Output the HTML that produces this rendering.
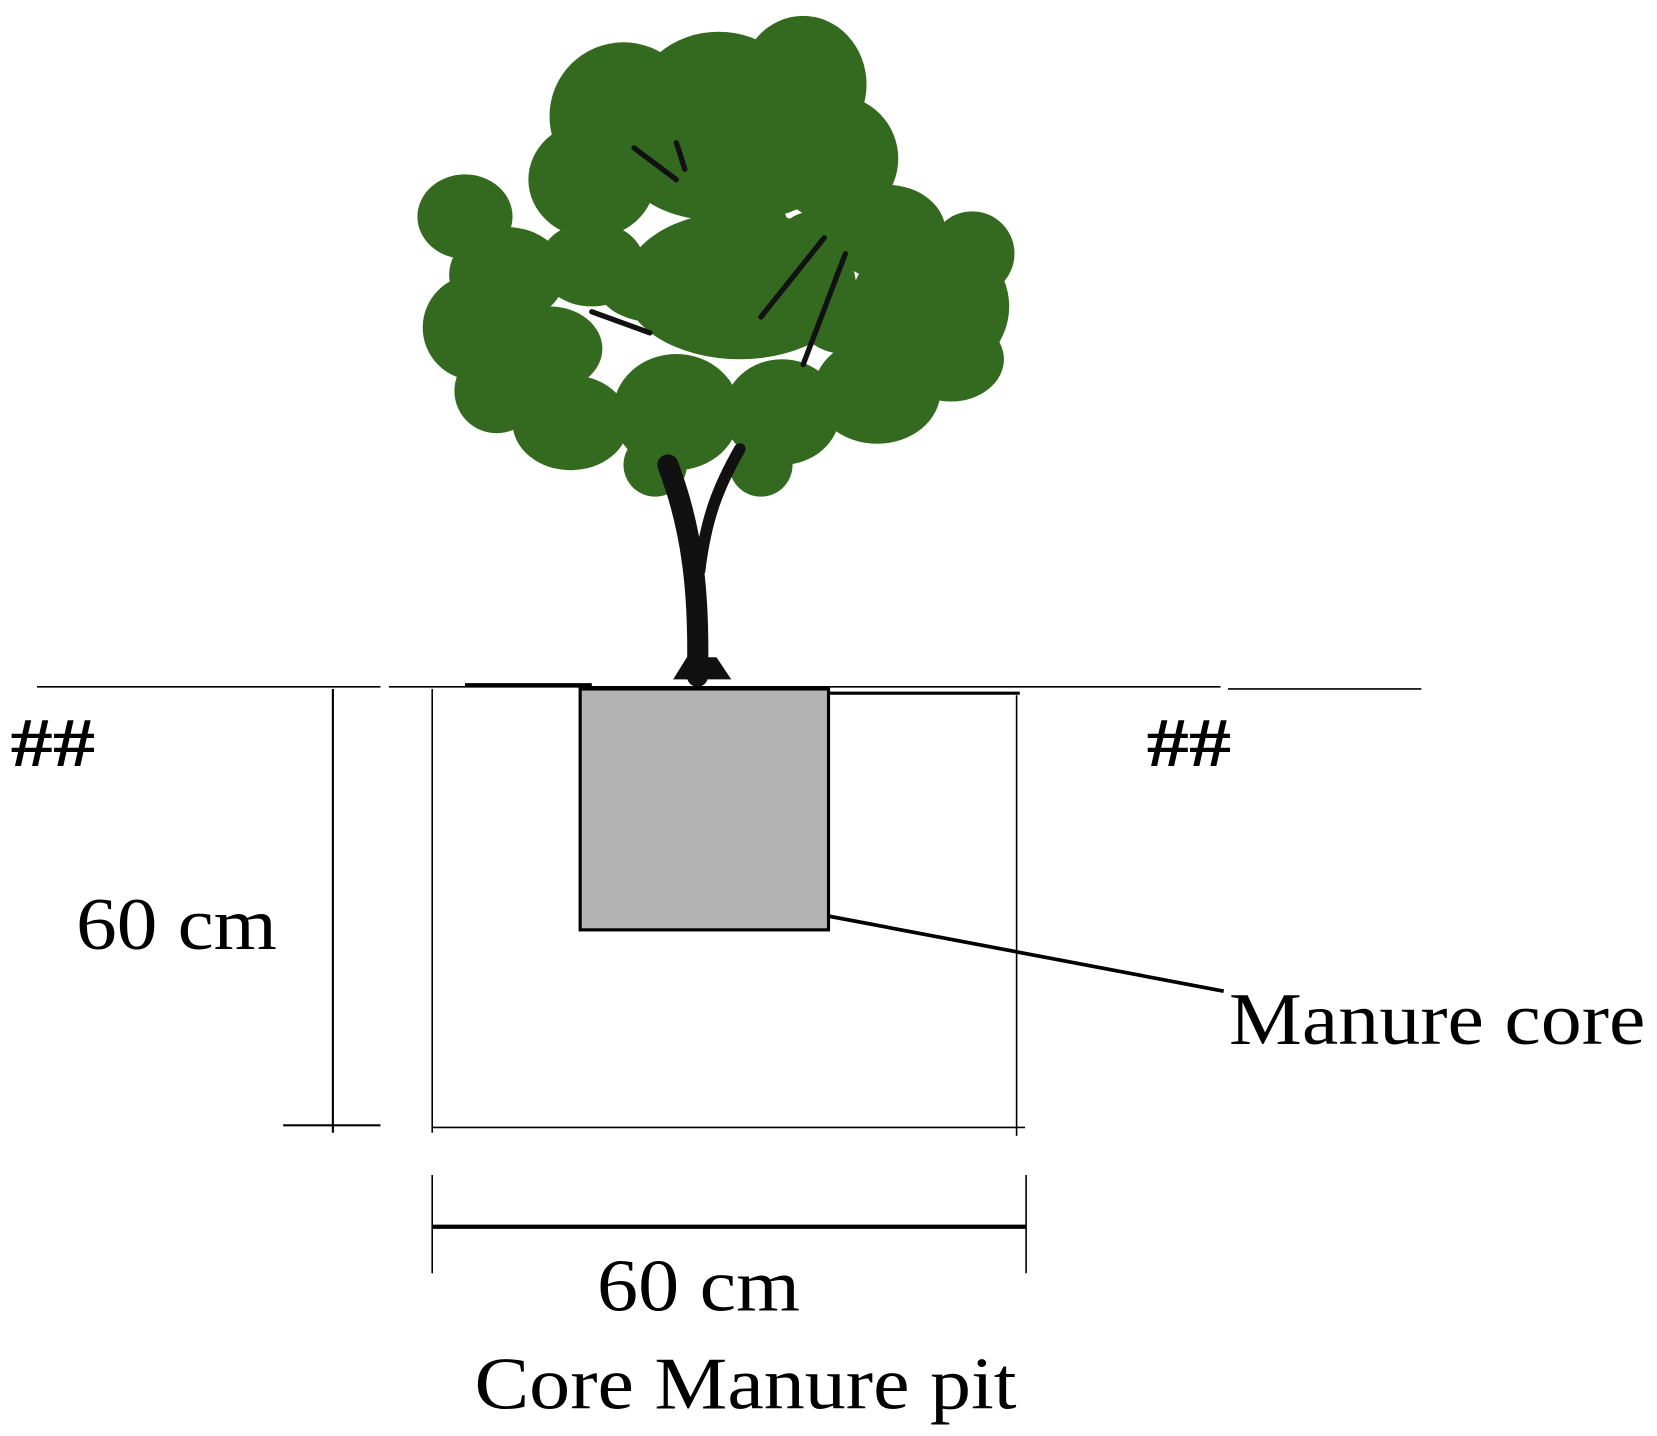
<!DOCTYPE html>
<html><head><style>html,body{margin:0;padding:0;background:#fff}svg{display:block}</style></head>
<body>
<svg width="1657" height="1436" viewBox="0 0 1568 1359" preserveAspectRatio="none" xmlns="http://www.w3.org/2000/svg">
<g fill="#336a1f">
<ellipse cx="590" cy="110" rx="70" ry="70"/>
<ellipse cx="680" cy="100" rx="80" ry="70"/>
<ellipse cx="760" cy="80" rx="60" ry="65"/>
<ellipse cx="790" cy="150" rx="60" ry="60"/>
<ellipse cx="560" cy="170" rx="60" ry="55"/>
<ellipse cx="840" cy="220" rx="55" ry="45"/>
<ellipse cx="440" cy="205" rx="45" ry="40"/>
<ellipse cx="480" cy="260" rx="55" ry="45"/>
<ellipse cx="450" cy="310" rx="50" ry="50"/>
<ellipse cx="520" cy="330" rx="50" ry="40"/>
<ellipse cx="620" cy="270" rx="55" ry="35"/>
<ellipse cx="700" cy="210" rx="45" ry="25"/>
<ellipse cx="880" cy="290" rx="75" ry="70"/>
<ellipse cx="800" cy="300" rx="45" ry="35"/>
<ellipse cx="540" cy="400" rx="55" ry="45"/>
<ellipse cx="640" cy="390" rx="60" ry="55"/>
<ellipse cx="740" cy="390" rx="55" ry="50"/>
<ellipse cx="830" cy="370" rx="60" ry="50"/>
<ellipse cx="900" cy="340" rx="50" ry="40"/>
<ellipse cx="620" cy="440" rx="30" ry="30"/>
<ellipse cx="720" cy="440" rx="30" ry="30"/>
<ellipse cx="690" cy="170" rx="90" ry="40"/>
<ellipse cx="700" cy="270" rx="110" ry="70"/>
<ellipse cx="560" cy="250" rx="50" ry="40"/>
<ellipse cx="770" cy="240" rx="40" ry="40"/>
<ellipse cx="470" cy="370" rx="40" ry="40"/>
<ellipse cx="920" cy="240" rx="40" ry="40"/>
</g>
<g stroke="#111" fill="none" stroke-linecap="round">
<path d="M660 640 C 662 560, 655 500, 632 440" stroke-width="20"/>
<path d="M662 540 C 668 490, 680 460, 700 425" stroke-width="11"/>
<path d="M600 140 L640 170 M640 135 L648 160 M560 295 L615 315 M720 300 L780 225 M760 345 L800 240" stroke-width="5"/>
</g>
<path d="M637 643 L692 643 L678 622 L650 622 Z" fill="#111"/>
<g stroke="#000" fill="none">
<path d="M35 650 H360 M368 650 H1155 M1162 652 H1345" stroke-width="1.5"/>
<path d="M440 648 H560 M560 651 H784 M784 656 H965" stroke-width="3"/>
<path d="M315 652 V1072 M268 1065 H360" stroke-width="2"/>
<path d="M409 652 V1072 M962 658 V1075 M409 1067 H970" stroke-width="1.5"/>
<path d="M409 1112 V1205 M971 1112 V1205" stroke-width="1.5"/>
<path d="M409 1161 H971" stroke-width="4"/>
<path d="M784 867 L1158 938" stroke-width="3.5"/>
</g>
<rect x="549" y="652" width="235" height="228" fill="#b3b3b3" stroke="#000" stroke-width="3"/>
<g font-family="Liberation Serif, serif" fill="#000">
<text x="10" y="725" font-size="66" textLength="80" lengthAdjust="spacingAndGlyphs" font-weight="bold">##</text>
<text x="1085" y="725" font-size="66" textLength="80" lengthAdjust="spacingAndGlyphs" font-weight="bold">##</text>
<text x="72" y="898" font-size="70" textLength="190" lengthAdjust="spacingAndGlyphs">60 cm</text>
<text x="1163" y="988" font-size="70" textLength="394" lengthAdjust="spacingAndGlyphs">Manure core</text>
<text x="565" y="1240" font-size="70" textLength="192" lengthAdjust="spacingAndGlyphs">60 cm</text>
<text x="449" y="1333" font-size="70" textLength="513" lengthAdjust="spacingAndGlyphs">Core Manure pit</text>
</g>
</svg>
</body></html>
